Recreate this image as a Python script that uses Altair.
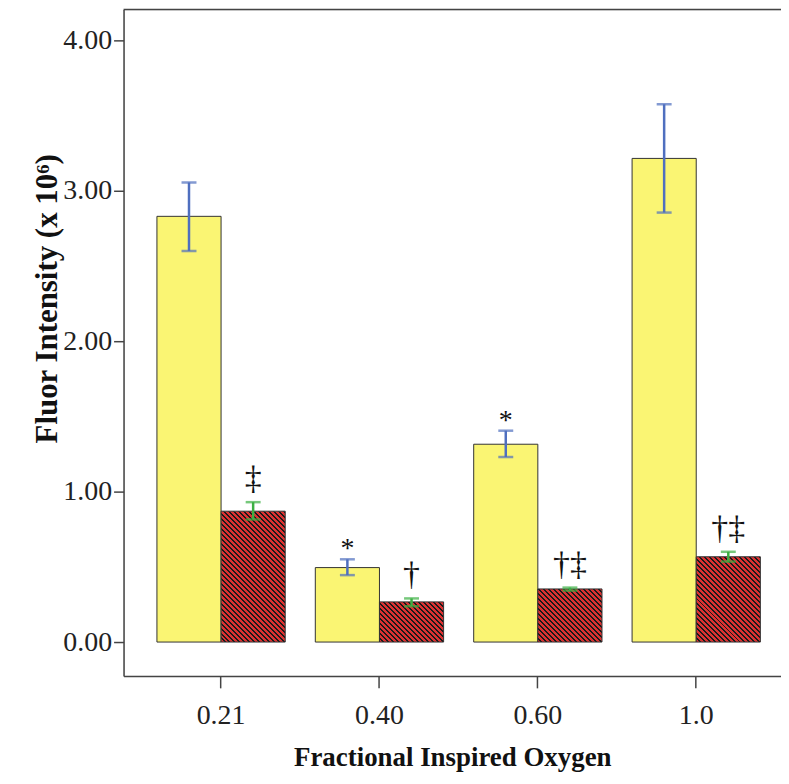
import altair as alt
import pandas as pd

# ---- data ----
categories = ["0.21", "0.40", "0.60", "1.0"]
series = ["Room air group", "Treated group"]
yellow_mean = [2.83, 0.495, 1.315, 3.215]
yellow_low = [2.60, 0.445, 1.23, 2.855]
yellow_high = [3.055, 0.55, 1.405, 3.575]
red_mean = [0.87, 0.267, 0.353, 0.567]
red_low = [0.815, 0.238, 0.342, 0.535]
red_high = [0.93, 0.29, 0.362, 0.60]
yellow_marks = ["", "*", "*", ""]
red_marks = ["\u2021", "\u2020", "\u2020\u2021", "\u2020\u2021"]
y_ticks = [0, 1, 2, 3, 4]

# ---- styles / layout ----
W, H = 660, 669
Y_DOMAIN = [-0.225, 4.205]
PX_PER_UNIT = H / (Y_DOMAIN[1] - Y_DOMAIN[0])
BAR_W = 64.4
YELLOW = "#faf573"
RED = "#dc3232"
STRIPE = "#1a1a1a"
BLUE = "#4f6fbf"
GREEN = "#3cb043"
FRAME = "#444444"
FONT = "Liberation Serif"

rows = []
for i, c in enumerate(categories):
    rows.append(dict(cat=c, grp=series[0], mean=yellow_mean[i], low=yellow_low[i],
                     high=yellow_high[i], mark=yellow_marks[i]))
    rows.append(dict(cat=c, grp=series[1], mean=red_mean[i], low=red_low[i],
                     high=red_high[i], mark=red_marks[i]))
df = pd.DataFrame(rows)

x_enc = alt.X("cat:N", sort=categories,
              scale=alt.Scale(paddingInner=0.19, paddingOuter=0.1705, align=0.618),
              axis=alt.Axis(labelAngle=0, labelFont=FONT, labelFontSize=28, labelColor="#222",
                            tickSize=12, tickColor=FRAME, tickWidth=1.5,
                            domainColor=FRAME, domainWidth=1.5, labelPadding=14,
                            title="Fractional Inspired Oxygen", titleFont=FONT,
                            titleFontSize=27, titleFontWeight="bold", titleColor="#111",
                            titlePadding=15))
xo_enc = alt.XOffset("grp:N", sort=series, scale=alt.Scale(paddingInner=0, paddingOuter=0))
y_scale = alt.Scale(domain=Y_DOMAIN, nice=False, zero=False)
y_axis = alt.Axis(values=y_ticks, format=".2f", labelFont=FONT, labelFontSize=28,
                  labelColor="#222", tickSize=10, tickColor=FRAME, tickWidth=1.5,
                  domainColor=FRAME, domainWidth=1.5, grid=False, labelPadding=2,
                  title="Fluor Intensity (x 10\u2076)", titleFont=FONT, titleFontSize=31,
                  titleFontWeight="bold", titleColor="#111", titleX=-67, titleY=290,
                  titleAngle=270, titleBaseline="alphabetic", titleAlign="center")

base = alt.Chart(df)


def hatch(h, w=BAR_W, period=5.0, duty=0.4):
    # 45-degree "\" stripes with a fixed horizontal period, in bounding-box units
    n = int((w + h) / period) + 1
    c = period * n / (w * w + h * h)
    stops = []
    for k in range(n):
        a = k / n
        b = (k + 1 - duty) / n
        e = (k + 1) / n
        stops += [{"offset": a, "color": RED}, {"offset": b, "color": RED},
                  {"offset": b, "color": STRIPE}, {"offset": e, "color": STRIPE}]
    return {"gradient": "linear", "x1": 0, "y1": 1, "x2": c * w, "y2": 1 - c * h,
            "stops": stops}


yellow_bars = base.transform_filter(alt.datum.grp == series[0]).mark_bar(
    fill=YELLOW, stroke="#333333", strokeWidth=1).encode(
    x=x_enc, xOffset=xo_enc,
    y=alt.Y("mean:Q", scale=y_scale, axis=y_axis), y2=alt.datum(0))

red_layers = []
for i, c in enumerate(categories):
    red_layers.append(
        base.transform_filter((alt.datum.grp == series[1]) & (alt.datum.cat == c)).mark_bar(
            fill=hatch(red_mean[i] * PX_PER_UNIT), stroke="#333333", strokeWidth=1).encode(
            x=x_enc, xOffset=xo_enc, y=alt.Y("mean:Q", scale=y_scale), y2=alt.datum(0)))

col = alt.Color("grp:N", scale=alt.Scale(domain=series, range=[BLUE, GREEN]), legend=None)

err_rule = base.mark_rule(strokeWidth=2.5).encode(
    x=x_enc, xOffset=xo_enc, y=alt.Y("low:Q", scale=y_scale), y2="high:Q", color=col)
cap_hi = base.mark_tick(thickness=2.5, size=15).encode(
    x=x_enc, xOffset=xo_enc, y=alt.Y("high:Q", scale=y_scale), color=col)
cap_lo = base.mark_tick(thickness=2.5, size=15).encode(
    x=x_enc, xOffset=xo_enc, y=alt.Y("low:Q", scale=y_scale), color=col)

star_txt = base.transform_filter(alt.datum.mark == "*").mark_text(
    font=FONT, fontSize=28, color="#111", baseline="alphabetic", dy=-2).encode(
    x=x_enc, xOffset=xo_enc, y=alt.Y("high:Q", scale=y_scale), text="mark:N")
dag_txt = base.transform_filter((alt.datum.mark != "*") & (alt.datum.mark != "")).mark_text(
    font=FONT, fontSize=34, color="#111", baseline="alphabetic", dy=-13).encode(
    x=x_enc, xOffset=xo_enc, y=alt.Y("high:Q", scale=y_scale), text="mark:N")

top_line = alt.Chart(pd.DataFrame({"k": [0]})).mark_rule(color=FRAME, strokeWidth=1.5).encode(
    x=alt.value(0), x2=alt.value(W), y=alt.value(0))

chart = alt.layer(yellow_bars, *red_layers, err_rule, cap_hi, cap_lo, star_txt, dag_txt,
                  top_line).properties(
    width=W, height=H,
    autosize=alt.AutoSizeParams(type="none"),
    padding={"left": 116, "top": 0, "right": 0, "bottom": 99},
).configure_view(stroke="transparent", fill="#efefef").configure(background="white")

chart.save("out.html", embed_options={"renderer": "svg", "actions": False})
